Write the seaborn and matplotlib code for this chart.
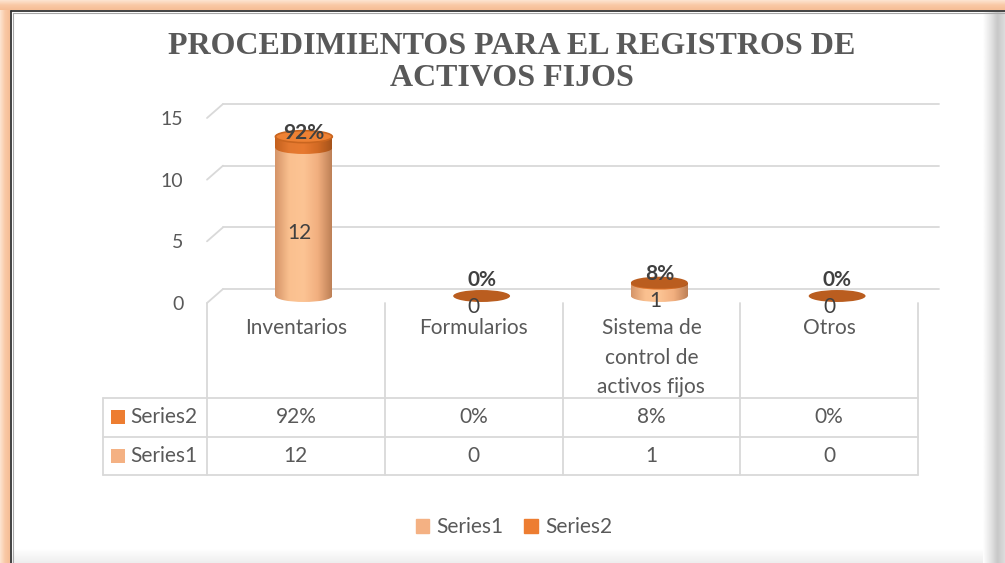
import seaborn as sns
import matplotlib.pyplot as plt
import matplotlib.transforms as mtransforms
from matplotlib.patches import Ellipse, Rectangle, Patch
from matplotlib.colors import LinearSegmentedColormap
from matplotlib.lines import Line2D
import numpy as np

# data
title_1 = "PROCEDIMIENTOS PARA EL REGISTROS DE"
title_2 = "ACTIVOS FIJOS"
categories = ["Inventarios", "Formularios", "Sistema de\ncontrol de\nactivos fijos", "Otros"]
series1 = [12, 0, 1, 0]
series2 = [0.92, 0.0, 0.08, 0.0]
series_names = ["Series1", "Series2"]
y_ticks = [0, 5, 10, 15]

totals = [a + b for a, b in zip(series1, series2)]

c1 = "#F4B183"
c2 = "#ED7D31"
grid_c = "#D9D9D9"
txt_c = "#595959"
lab_c = "#404040"

sns.set_theme(style="white")
plt.rcParams['font.family'] = ['Lato', 'DejaVu Sans']

W, H = 1005, 563
fig = plt.figure(figsize=(W / 100, H / 100), dpi=100)
fig.patch.set_facecolor("white")

# pixel axes for frame / table
pix = fig.add_axes([0, 0, 1, 1], zorder=0)
pix.set_xlim(0, W)
pix.set_ylim(H, 0)
pix.axis('off')

# front plane of the 3d plot
ax = fig.add_axes([207 / W, (H - 303) / H, 711 / W, 185 / H], zorder=1)
ax.patch.set_alpha(0)

# bars: totals first (dark), then series1 over it (light)
sns.barplot(x=categories, y=totals, ax=ax, width=0.32, color=c2, saturation=1)
sns.barplot(x=categories, y=series1, ax=ax, width=0.32, color=c1, saturation=1)
ax.set_xlim(-0.5, 3.5)
ax.set_ylim(0, 15)
ax.set_xlabel("")
ax.set_ylabel("")
for s in ax.spines.values():
    s.set_visible(False)

mid = mtransforms.offset_copy(ax.transData, fig=fig, x=8, y=7, units='dots')
back = mtransforms.offset_copy(ax.transData, fig=fig, x=16, y=14, units='dots')

# gridlines on the back wall + left diagonals
for v in y_ticks:
    ax.plot([-0.5, 3.53], [v, v], color=grid_c, lw=1.3, transform=back, zorder=0.5, clip_on=False)
    p0 = ax.transData.transform((-0.5, v))
    p1 = back.transform((-0.5, v))
    ax.add_line(Line2D([p0[0], p1[0]], [p0[1], p1[1]], color=grid_c, lw=1.3,
                       transform=mtransforms.IdentityTransform(), clip_on=False, zorder=0.5))

cm_light = LinearSegmentedColormap.from_list("l", ["#D59468", "#FAC08F", "#FCC494", "#F2AF7F", "#BD8056"])
cm_dark = LinearSegmentedColormap.from_list("d", ["#C4601E", "#E3782F", "#E87A30", "#D26A24", "#A5531B"])
grad = np.linspace(0, 1, 256).reshape(1, -1)
eh = 0.97

bars_tot = ax.patches[:4]
bars_s1 = ax.patches[4:8]
for p in bars_tot + bars_s1:
    p.set_transform(mid)
    p.set_facecolor("none")
    p.set_edgecolor("none")


def shade(patch, cmap, x0, x1, y0, y1, z):
    im = ax.imshow(grad, cmap=cmap, extent=[x0, x1, y0, y1], transform=mid,
                   aspect='auto', zorder=z, interpolation='bilinear')
    im.set_clip_path(patch)


for i in range(len(categories)):
    pb = bars_s1[i]
    x0 = pb.get_x()
    w = pb.get_width()
    xc = x0 + w / 2
    s1 = series1[i]
    s2 = series2[i]
    tot = totals[i]
    if s1 > 0:
        shade(pb, cm_light, x0, x0 + w, -eh / 2, s1, 2)
        el = Ellipse((xc, 0), w, eh, transform=mid, facecolor="none", edgecolor="none")
        ax.add_patch(el)
        shade(el, cm_light, x0, x0 + w, -eh / 2, s1, 2)
    if s2 > 0:
        shade(bars_tot[i], cm_dark, x0, x0 + w, s1, tot, 3)
        el = Ellipse((xc, s1), w, eh, transform=mid, facecolor="none", edgecolor="none")
        ax.add_patch(el)
        shade(el, cm_dark, x0, x0 + w, s1 - eh / 2, tot, 3)
    top_c = "#EE8133" if s2 >= 0.5 else "#BA5D1F"
    ax.add_patch(Ellipse((xc, tot), w, eh, transform=mid, facecolor=top_c,
                         edgecolor="#C9651F" if s2 >= 0.5 else "none", lw=1.2, zorder=4))

    # value labels (Excel nudges the label up more for the short cylinders)
    lab1 = mtransforms.offset_copy(ax.transData, fig=fig, x=4 if s1 > 0 else 0, y=-4, units='dots')
    ax.text(xc, s1 / 2, f"{s1}", transform=lab1, ha='center', va='center',
            fontsize=15, color=lab_c, zorder=5)
    up = 16 if tot < 0.5 else (9 if tot < 5 else 4)
    lab2 = mtransforms.offset_copy(mid, fig=fig, x=0, y=up, units='dots')
    ax.text(xc, tot, f"{s2:.0%}", transform=lab2, ha='center', va='center',
            fontsize=15, fontweight='bold', color=lab_c, zorder=6)

# axes ticks
ax.set_yticks(y_ticks)
ax.set_yticklabels([str(v) for v in y_ticks])
ax.tick_params(axis='y', length=0, pad=17, labelsize=14, labelcolor=txt_c)
ax.set_xticks(range(len(categories)))
ax.set_xticklabels(categories)
ax.tick_params(axis='x', length=0, pad=11, labelsize=15, labelcolor=txt_c)
for t in ax.get_xticklabels():
    t.set_linespacing(1.58)

# data table
tl = dict(color=grid_c, lw=1.3)
for yy in [398, 437, 475]:
    pix.plot([103, 918], [yy, yy], **tl)
for xx in [207, 385, 563, 740, 918]:
    pix.plot([xx, xx], [303, 475], **tl)
pix.plot([103, 103], [398, 475], **tl)

blend = mtransforms.blended_transform_factory(ax.transData, pix.transData)
rows = [(series_names[1], c2, [f"{v:.0%}" for v in series2], 417),
        (series_names[0], c1, [f"{v}" for v in series1], 456)]
for name, col, vals, yc in rows:
    pix.add_patch(Rectangle((111, yc - 7), 14, 14, facecolor=col, edgecolor="none"))
    pix.text(130, yc, name, ha='left', va='center', fontsize=15, color=txt_c)
    for j, v in enumerate(vals):
        pix.text(j, yc, v, transform=blend, ha='center', va='center', fontsize=15, color=txt_c)

# title
for txt, yy in [(title_1, 46), (title_2, 79)]:
    pix.text(512, yy, txt, ha='center', va='center', fontsize=23, fontweight='bold',
             family='Liberation Serif', color=txt_c)

# legend
handles = [Patch(color=c1, label=series_names[0]), Patch(color=c2, label=series_names[1])]
fig.legend(handles=handles, loc='center', bbox_to_anchor=(514 / W, 1 - 527 / H), ncol=2,
           frameon=False, fontsize=15, handlelength=0.65, handleheight=0.65,
           handletextpad=0.35, columnspacing=1.0, labelcolor=txt_c)

# frame: orange glow left/top, dark rule, gray shadow right/bottom
orange = LinearSegmentedColormap.from_list("o", ["#FDE5D3", "#F9C9A6", "#F6BD95"])
pix.imshow(grad, cmap=orange, extent=[0, 10, H, 0], aspect='auto', zorder=1)
pix.imshow(grad.T, cmap=orange, extent=[0, W, 10, 0], aspect='auto', zorder=1)
shadow = LinearSegmentedColormap.from_list("s", ["#FFFFFF", "#E6E6E6", "#C8C8C8", "#DDDDDD"])
pix.imshow(grad, cmap=shadow, extent=[983, W, H, 12], aspect='auto', zorder=1)
shadow_b = LinearSegmentedColormap.from_list("sb", ["#FFFFFF", "#EEEEEE"])
pix.imshow(grad.T, cmap=shadow_b, extent=[12, 983, H, 549], aspect='auto', zorder=1)
pix.plot([11, 11], [11, H], color="#333333", lw=1.3, zorder=2)
pix.plot([11, W], [11, 11], color="#333333", lw=1.3, zorder=2)
pix.plot([13, 13], [13, H], color="#A8A8A8", lw=0.8, zorder=2)
pix.plot([13, W], [13, 13], color="#A8A8A8", lw=0.8, zorder=2)
pix.set_xlim(0, W)
pix.set_ylim(H, 0)

fig.savefig("out.png", dpi=100)
